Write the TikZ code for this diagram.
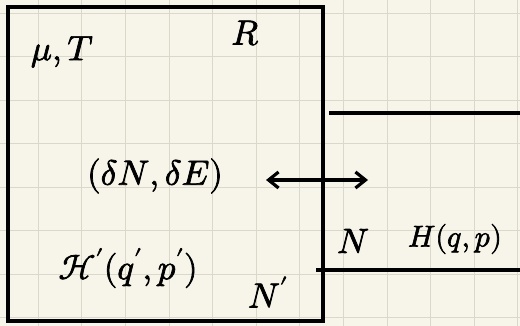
\documentclass[tikz,border=0pt]{standalone}
\usepackage{unicode-math}
\setmathfont{Latin Modern Math}[FakeBold=2]
\usetikzlibrary{arrows.meta}
\definecolor{paper}{HTML}{F7F5E9}
\definecolor{gridc}{HTML}{D9D8CB}
\tikzset{
  ink/.style={line width=3.2pt, black, line cap=round},
  lbl/.style={inner sep=0pt, font=\fontsize{35}{38}\selectfont},
  lblsm/.style={inner sep=0pt, font=\fontsize{30}{34}\selectfont}
}
\begin{document}
\begin{tikzpicture}[x=1pt,y=-1pt]
\fill[paper] (0,0) rectangle (520,326);
\useasboundingbox (0,0) rectangle (520,326);
% grid
\foreach \i in {0,...,11} {\draw[gridc, line width=1pt] ({38.3+43.6*\i},0) -- ({38.3+43.6*\i},326);}
\foreach \j in {0,...,7} {\draw[gridc, line width=1pt] (0,{13.3+43.5*\j}) -- (520,{13.3+43.5*\j});}
% reservoir box
\draw[ink, line cap=butt] (8,7) rectangle (323,321);
% system lines
\coordinate (u1) at (329,113); \coordinate (u2) at (520,113);
\coordinate (l1) at (316,270); \coordinate (l2) at (520,270);
\draw[ink, line cap=butt] (u1) -- (u2);
\draw[ink, line cap=butt] (l1) -- (l2);
% labels
\node[lbl] (muT) at (62,52) {$\mu,T$};
\node[lbl] (R) at (245,33) {$R$};
\node[lbl] (ex) at (155,176) {$(\delta N,\delta E)$};
\node[lbl] (Hp) at (128,268) {$\mathcal{H}'(q',p')$};
\node[lbl] (Np) at (268,292) {$N'$};
\node[lbl] (N) at (353,241) {$N$};
\node[lblsm] (H) at (455,239) {$H(q,p)$};
% exchange arrow
\coordinate (a1) at (266,180); \coordinate (a2) at (368,180);
\draw[ink, {Straight Barb[length=10pt,width=16pt]}-{Straight Barb[length=10pt,width=16pt]}] (a1) -- (a2);
\end{tikzpicture}
\end{document}
